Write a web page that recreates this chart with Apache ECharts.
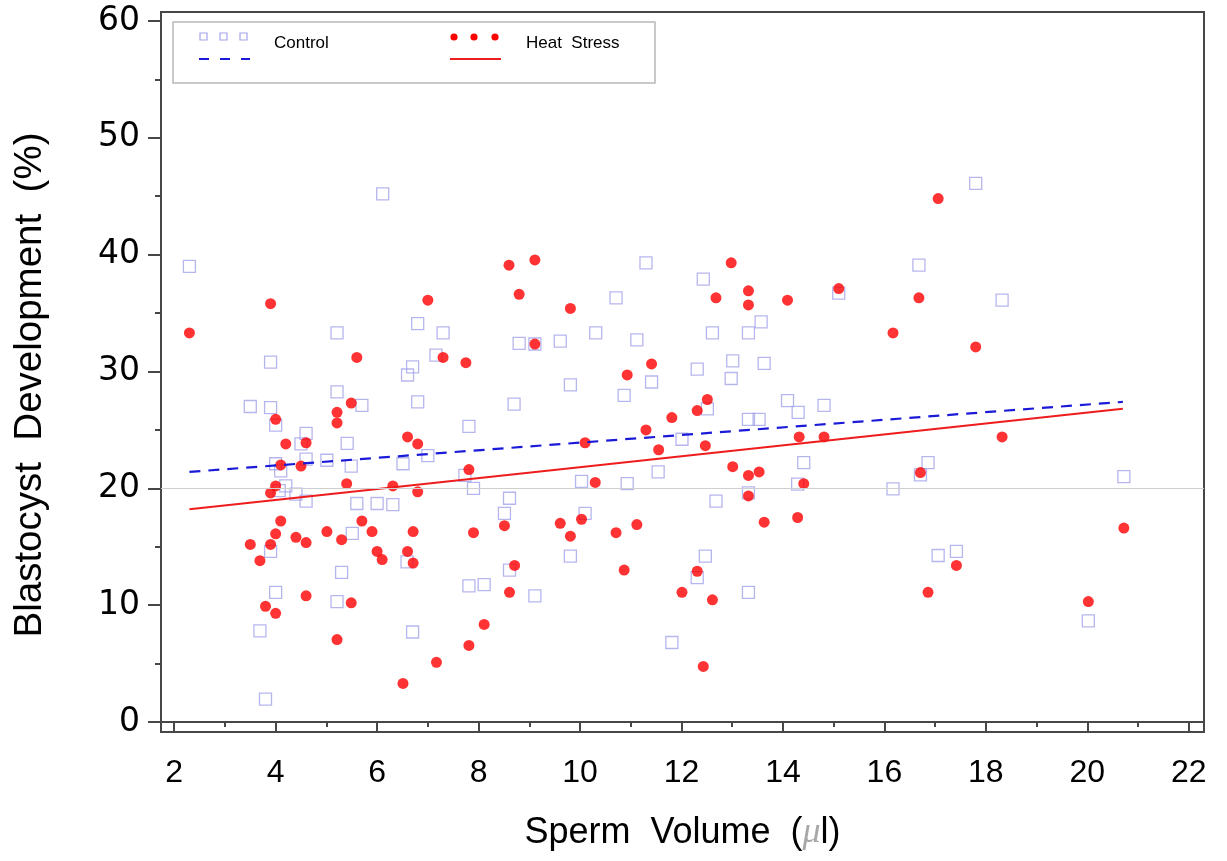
<!DOCTYPE html>
<html>
<head>
<meta charset="utf-8">
<script src="https://cdn.jsdelivr.net/npm/echarts@6/dist/echarts.min.js"></script>
<style>
  html, body { margin: 0; padding: 0; background: #fff; }
  #chart { width: 1227px; height: 861px; }
</style>
</head>
<body>
<div id="chart"></div>
<script>
// Sperm volume (µl) vs blastocyst development (%), by treatment group
const control = [
  [6.11,45.2],[2.30,39.0],[5.21,33.3],[6.80,34.1],[7.30,33.3],[3.90,30.8],[7.16,31.4],[6.70,30.4],
  [6.60,29.7],[5.21,28.25],[5.70,27.1],[6.80,27.4],[3.50,27.0],[3.90,26.9],[4.00,25.4],[4.60,24.7],
  [4.50,23.8],[5.41,23.85],[4.00,22.1],[4.60,22.5],[5.01,22.4],[5.49,21.9],[6.51,22.1],[7.00,22.8],
  [4.10,21.5],[4.20,20.2],[4.07,19.8],[4.40,19.5],[4.60,18.9],[5.60,18.7],[6.00,18.7],[6.31,18.6],
  [3.90,14.6],[5.51,16.15],[6.59,13.7],[5.30,12.8],[4.00,11.1],[5.21,10.3],[3.69,7.8],[6.70,7.7],
  [3.80,1.95],
  [11.30,39.3],[12.43,37.9],[10.71,36.3],[10.31,33.3],[12.61,33.3],[11.12,32.7],[8.80,32.4],[9.11,32.35],
  [9.61,32.6],[13.01,30.9],[11.41,29.1],[12.98,29.4],[12.31,30.2],[9.81,28.85],[10.87,27.95],[8.70,27.2],
  [12.51,26.8],[7.81,25.3],[12.01,24.2],[7.73,21.1],[7.90,20.0],[11.54,21.4],[10.03,20.6],[10.93,20.4],
  [12.68,18.9],[8.61,19.15],[8.51,17.85],[10.10,17.85],[9.81,14.2],[8.61,13.0],[12.47,14.2],[12.31,12.35],
  [7.81,11.65],[8.11,11.75],[9.11,10.8],[11.81,6.8],
  [17.80,46.1],[16.68,39.1],[15.10,36.7],[18.32,36.1],[13.57,34.25],[13.32,33.3],[13.63,30.7],[14.09,27.5],
  [14.30,26.5],[14.81,27.1],[13.32,25.9],[13.53,25.9],[14.41,22.2],[16.86,22.2],[14.29,20.35],[13.32,19.6],
  [16.17,19.95],[16.71,21.15],[17.06,14.25],[17.42,14.6],[13.32,11.1],
  [20.72,21.0],[20.02,8.65]
];

const heatStress = [
  [3.90,35.8],[7.00,36.1],[2.30,33.3],[5.60,31.2],[7.30,31.2],[5.49,27.3],[5.21,26.5],[5.21,25.6],
  [4.00,25.9],[4.20,23.8],[4.60,23.9],[6.60,24.4],[6.80,23.8],[4.10,22.0],[4.50,21.9],
  [4.00,20.2],[3.90,19.6],[5.40,20.4],[6.31,20.2],[6.80,19.7],[4.10,17.2],[4.00,16.1],[3.50,15.2],
  [3.90,15.2],[3.69,13.8],[4.40,15.8],[4.60,15.35],[5.01,16.3],[5.30,15.6],[5.70,17.2],[5.90,16.3],
  [6.00,14.6],[6.10,13.9],[6.71,16.3],[6.60,14.6],[6.71,13.6],[3.80,9.9],[4.00,9.3],[4.60,10.8],
  [5.49,10.2],[5.21,7.05],[7.17,5.1],[6.51,3.3],
  [8.60,39.1],[9.11,39.55],[12.98,39.3],[8.80,36.6],[12.68,36.3],[9.81,35.4],[9.11,32.35],[7.75,30.75],
  [11.41,30.65],[10.93,29.7],[12.51,27.6],[12.31,26.65],[11.81,26.05],[11.30,25.0],[11.55,23.3],[12.47,23.65],
  [10.10,23.9],[7.81,21.6],[13.01,21.85],[10.30,20.5],[8.51,16.8],[10.03,17.35],[9.61,17.0],[9.81,15.9],
  [7.90,16.2],[10.71,16.2],[11.12,16.9],[10.87,13.0],[8.71,13.4],[12.31,12.9],[8.61,11.1],[12.01,11.1],
  [12.61,10.45],[8.11,8.35],[7.81,6.55],[12.43,4.75],
  [17.06,44.8],[13.32,36.9],[13.32,35.7],[14.09,36.1],[15.10,37.1],[16.68,36.3],[16.17,33.3],[17.80,32.1],
  [14.32,24.4],[14.81,24.4],[18.32,24.4],[13.32,21.1],[13.53,21.4],[14.41,20.4],[13.32,19.35],[13.63,17.1],
  [14.29,17.5],[16.71,21.35],[17.42,13.4],[16.86,11.1],
  [20.72,16.6],[20.02,10.3]
];

// fitted regression lines (endpoints)
const controlFit = [[2.3,21.4],[20.7,27.4]];
const heatFit = [[2.3,18.2],[20.7,26.8]];

// tick values
const xMajorTicks = [2,4,6,8,10,12,14,16,18,20,22];
const xMinorTicks = [3,5,7,9,11,13,15,17,19,21];
const yMajorTicks = [0,10,20,30,40,50,60];
const yMinorTicks = [5,15,25,35,45,55];
const refLevel = 20;

const AXIS = '#474747';
const SANS = "'Liberation Sans',Arial,Helvetica,sans-serif";
const WIDE = "'DejaVu Sans',sans-serif";
const SQ = '#a4a4ea';
const RED = '#ff0000';
const BLUE = '#1a1ad8';
const LINE_RED = '#ee1c1c';

const X_MIN = 1.74, X_MAX = 22.3, Y_MIN = -0.86, Y_MAX = 60.77;

const chart = echarts.init(document.getElementById('chart'), null, { renderer: 'canvas' });

const option = {
  animation: false,
  backgroundColor: '#fff',
  grid: {
    left: 161, top: 12, right: 23, bottom: 129,
    show: true, borderColor: AXIS, borderWidth: 2, backgroundColor: 'transparent'
  },
  xAxis: [
    {
      type: 'value', min: X_MIN, max: X_MAX, position: 'bottom',
      axisLine: { show: true, lineStyle: { color: AXIS, width: 2 } },
      axisTick: { show: true, length: 10, customValues: xMajorTicks, lineStyle: { color: AXIS, width: 2 } },
      axisLabel: { customValues: xMajorTicks, margin: 25, color: '#000', fontSize: 32, fontFamily: SANS },
      splitLine: { show: false },
      name: '{a|Sperm  Volume  (}{m|\u03bc}{a|l)}',
      nameLocation: 'middle', nameGap: 83,
      nameTextStyle: {
        rich: {
          a: { fontSize: 36, fontFamily: SANS, color: '#000' },
          m: { fontSize: 36, fontFamily: "'Liberation Serif','DejaVu Serif',serif", fontStyle: 'italic', color: '#a8a8a8' }
        }
      }
    },
    {
      type: 'value', min: X_MIN, max: X_MAX, position: 'bottom',
      axisLine: { show: false },
      axisTick: { show: true, length: 5, customValues: xMinorTicks, lineStyle: { color: AXIS, width: 2 } },
      axisLabel: { show: false }, splitLine: { show: false }
    }
  ],
  yAxis: [
    {
      type: 'value', min: Y_MIN, max: Y_MAX, position: 'left',
      axisLine: { show: true, lineStyle: { color: AXIS, width: 2 } },
      axisTick: { show: true, length: 13, customValues: yMajorTicks, lineStyle: { color: AXIS, width: 2 } },
      axisLabel: { customValues: yMajorTicks, margin: 21, color: '#000', fontSize: 33, fontFamily: WIDE },
      splitLine: { show: false },
      name: 'Blastocyst  Development  (%)',
      nameLocation: 'middle', nameGap: 111,
      nameTextStyle: { fontSize: 38.5, fontFamily: SANS, color: '#000', padding: [0, 26, 0, 0] }
    },
    {
      type: 'value', min: Y_MIN, max: Y_MAX, position: 'left',
      axisLine: { show: false },
      axisTick: { show: true, length: 6, customValues: yMinorTicks, lineStyle: { color: AXIS, width: 2 } },
      axisLabel: { show: false }, splitLine: { show: false }
    }
  ],
  series: [
    {
      name: 'Control', type: 'scatter', data: control, z: 2,
      symbol: 'rect', symbolSize: 12,
      itemStyle: { color: 'rgba(255,255,255,0)', borderColor: SQ, borderWidth: 1.3 },
      markLine: {
        silent: true, symbol: 'none', label: { show: false },
        lineStyle: { color: '#cfcfcf', width: 1, type: 'solid' },
        data: [{ yAxis: refLevel }]
      }
    },
    {
      name: 'Heat Stress', type: 'scatter', data: heatStress, z: 3,
      symbol: 'circle', symbolSize: 11,
      itemStyle: { color: RED }
    },
    {
      name: 'Control fit', type: 'line', data: controlFit, z: 4,
      symbol: 'none', lineStyle: { color: BLUE, width: 2.2, type: [11, 8] }
    },
    {
      name: 'Heat Stress fit', type: 'line', data: heatFit, z: 4,
      symbol: 'none', lineStyle: { color: LINE_RED, width: 2 }
    }
  ],
  graphic: [
    { type: 'rect', shape: { x: 173, y: 22, width: 482, height: 61 },
      style: { fill: 'none', stroke: '#b8b8b8', lineWidth: 1.5 }, z: 10 },
    { type: 'rect', shape: { x: 200, y: 33, width: 7, height: 7 }, style: { fill: 'none', stroke: SQ, lineWidth: 1.2 }, z: 10 },
    { type: 'rect', shape: { x: 220, y: 33, width: 7, height: 7 }, style: { fill: 'none', stroke: SQ, lineWidth: 1.2 }, z: 10 },
    { type: 'rect', shape: { x: 240, y: 33, width: 7, height: 7 }, style: { fill: 'none', stroke: SQ, lineWidth: 1.2 }, z: 10 },
    { type: 'line', shape: { x1: 199, y1: 59, x2: 250, y2: 59 },
      style: { stroke: BLUE, lineWidth: 2.2, lineDash: [10, 11] }, z: 10 },
    { type: 'text', x: 274, y: 43, style: { text: 'Control', fontSize: 17, fontFamily: SANS, fill: '#000', verticalAlign: 'middle' }, z: 10 },
    { type: 'circle', shape: { cx: 454, cy: 37, r: 3.6 }, style: { fill: RED }, z: 10 },
    { type: 'circle', shape: { cx: 474, cy: 37, r: 3.6 }, style: { fill: RED }, z: 10 },
    { type: 'circle', shape: { cx: 495, cy: 37, r: 3.6 }, style: { fill: RED }, z: 10 },
    { type: 'line', shape: { x1: 450, y1: 59, x2: 501, y2: 59 },
      style: { stroke: LINE_RED, lineWidth: 2 }, z: 10 },
    { type: 'text', x: 526, y: 43, style: { text: 'Heat  Stress', fontSize: 17, fontFamily: SANS, fill: '#000', verticalAlign: 'middle' }, z: 10 }
  ]
};

chart.setOption(option);
</script>
</body>
</html>
